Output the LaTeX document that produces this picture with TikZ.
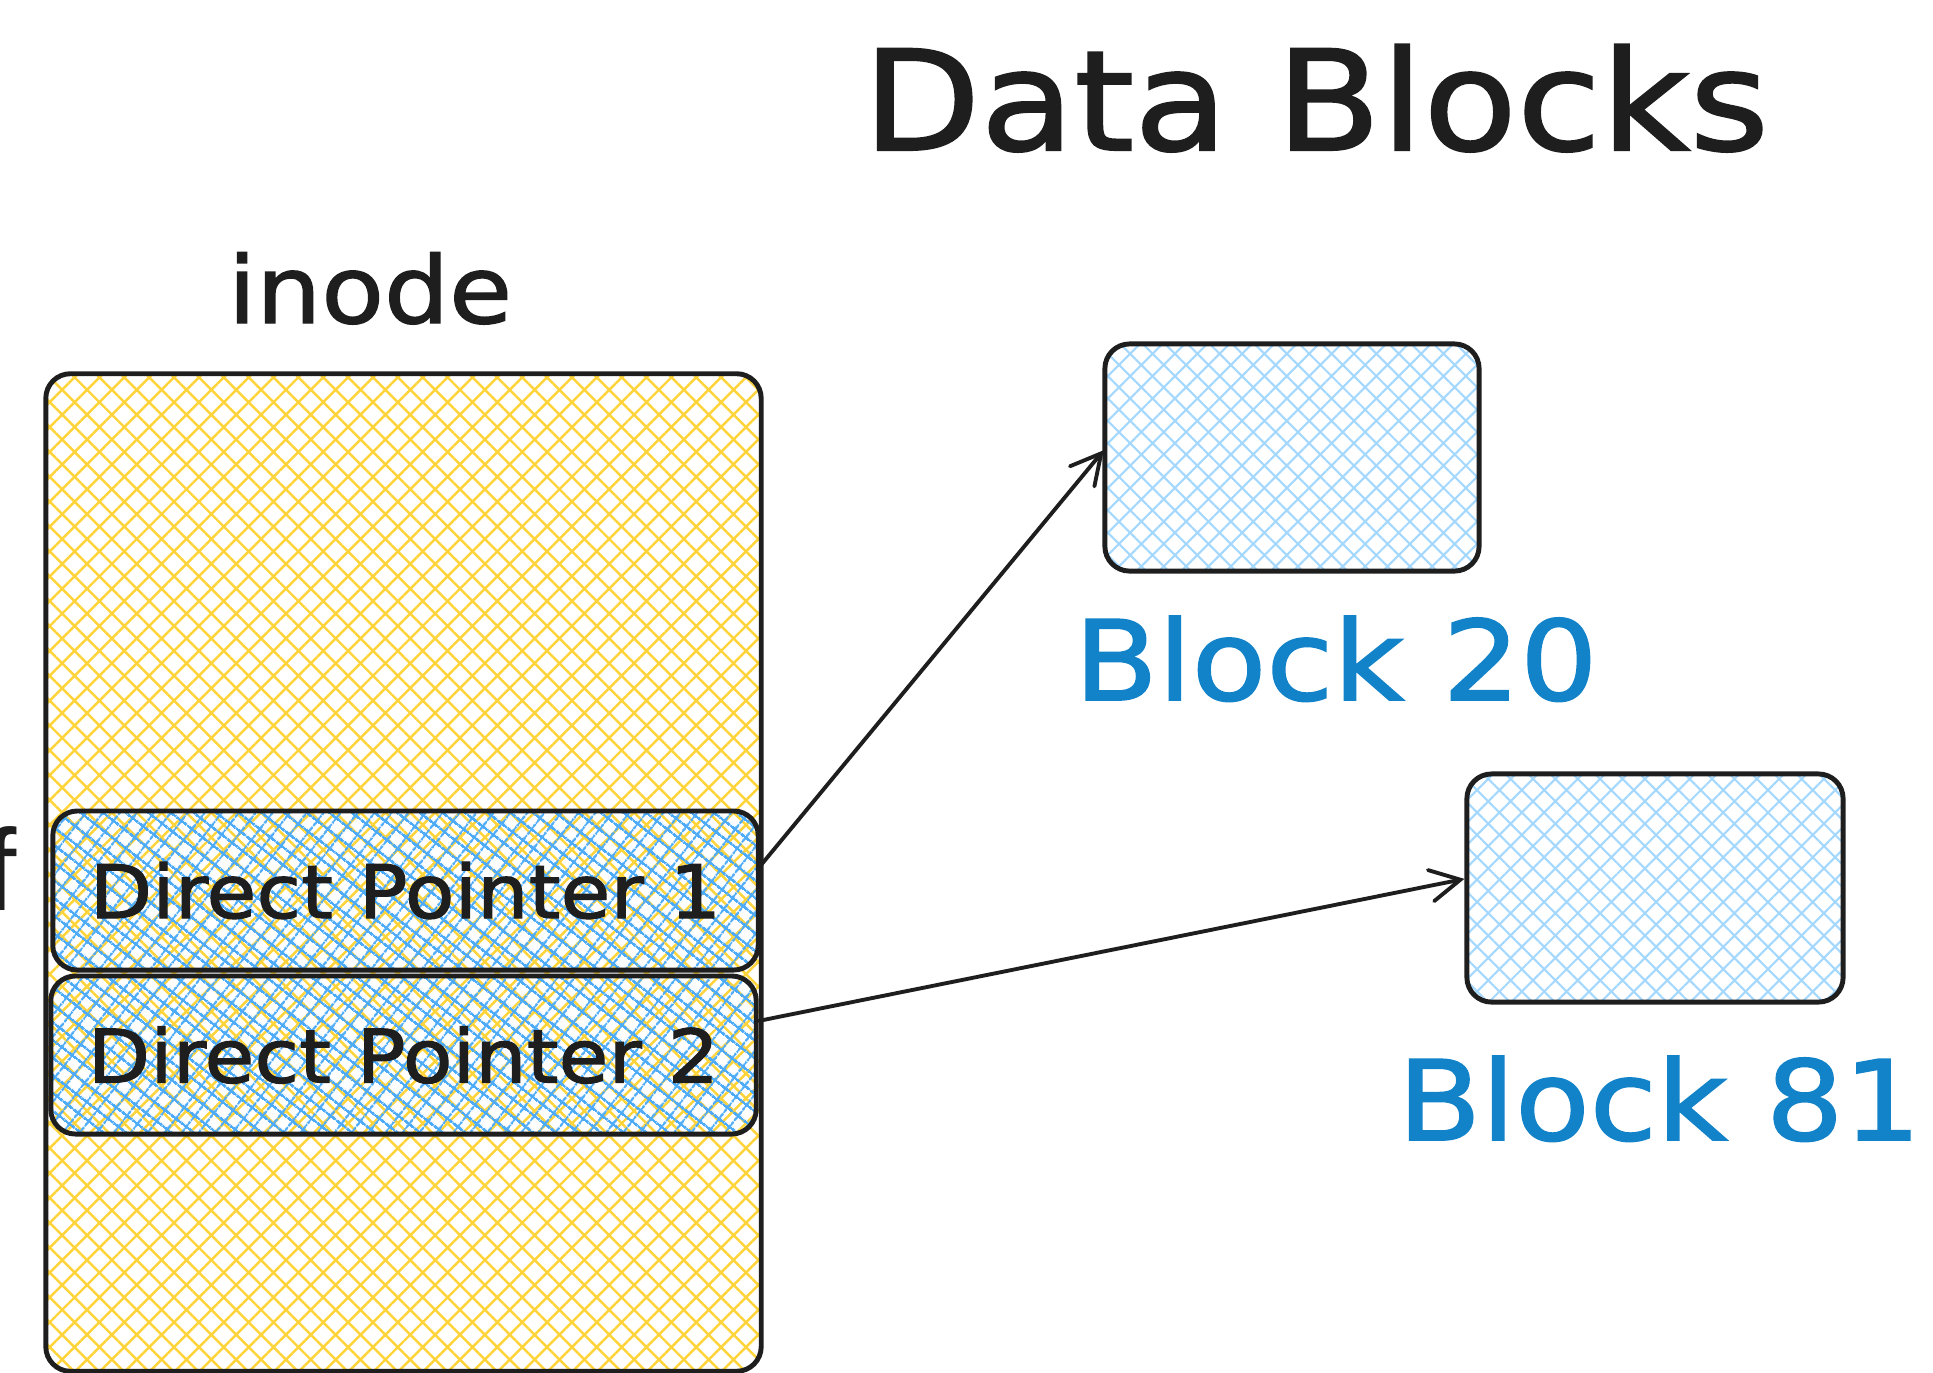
\documentclass[tikz,border=0pt]{standalone}
\usepackage{fontspec}
\usepackage{tikz}
\usetikzlibrary{patterns.meta,arrows.meta}
\setmainfont{DejaVu Sans}
\newfontfamily\handfont[FakeStretch=1.1,FakeBold=1.5]{DejaVu Sans}
\newfontfamily\plainfont{Liberation Sans}
\definecolor{ink}{HTML}{1E1E1E}
\definecolor{hatchyellow}{HTML}{FFD43B}
\definecolor{hatchblue}{HTML}{4DABF7}
\definecolor{hatchsky}{HTML}{A5D8FF}
\definecolor{labelblue}{HTML}{1283C9}

\begin{document}
\begin{tikzpicture}[
    x=0.01cm,y=-0.01cm,
    box/.style={draw=ink,line width=1.4pt,rounded corners=7pt,inner sep=0pt},
    inodebox/.style={box,pattern={Hatch[angle=45,distance=5pt,line width=0.7pt]},pattern color=hatchyellow},
    ptrbox/.style={box,pattern={Hatch[angle=52,distance=4pt,line width=0.7pt]},pattern color=hatchblue,
        font=\handfont\fontsize{21}{21}\selectfont,text=ink},
    blockbox/.style={box,pattern={Hatch[angle=45,distance=4.5pt,line width=0.6pt]},pattern color=hatchsky},
    blocklabel/.style={inner sep=0pt,anchor=base,font=\handfont\fontsize{31.5}{32}\selectfont,text=labelblue},
    pointer/.style={draw=ink,line width=1.1pt,line cap=round,-{Straight Barb[length=8.5pt,width=9pt,line cap=round]}}
]
\useasboundingbox (0,0) rectangle (1933,1372);
\clip (0,0) rectangle (1933,1372);

% titles
\node[inner sep=0pt,anchor=base,text=ink,font=\handfont\fontsize{39.5}{40}\selectfont] (title) at (1316,150) {Data Blocks};
\node[inner sep=0pt,anchor=base,text=ink,font=\handfont\fontsize{26.5}{27}\selectfont] (inodelabel) at (370,323) {inode};
\node[inner sep=0pt,anchor=base west,text=ink,font=\plainfont\fontsize{33}{33}\selectfont] (cut) at (-16,910) {f};

% inode with its two pointers
\node[inodebox,minimum width=7.15cm,minimum height=9.97cm] (inode) at (403.5,872.5) {};
\node[ptrbox,minimum width=7.05cm,minimum height=1.59cm] (ptrA) at (405.5,890.5) {Direct Pointer 1};
\node[ptrbox,minimum width=7.05cm,minimum height=1.58cm] (ptrB) at (403.5,1055) {Direct Pointer 2};

% data blocks
\node[blockbox,minimum width=3.74cm,minimum height=2.27cm] (blkA) at (1292,457.5) {};
\node[blockbox,minimum width=3.76cm,minimum height=2.28cm] (blkB) at (1655,888) {};
\node[blocklabel] (blkAlabel) at (1336,700) {Block 20};
\node[blocklabel,anchor=base west] (blkBlabel) at (1397,1140) {Block 81};

\draw[pointer] ([yshift=6.7pt]ptrA.east) -- ([yshift=2.1pt]blkA.west);
\draw[pointer] ([yshift=9.7pt]ptrB.east) -- ([yshift=2.6pt]blkB.west);
\end{tikzpicture}
\end{document}
